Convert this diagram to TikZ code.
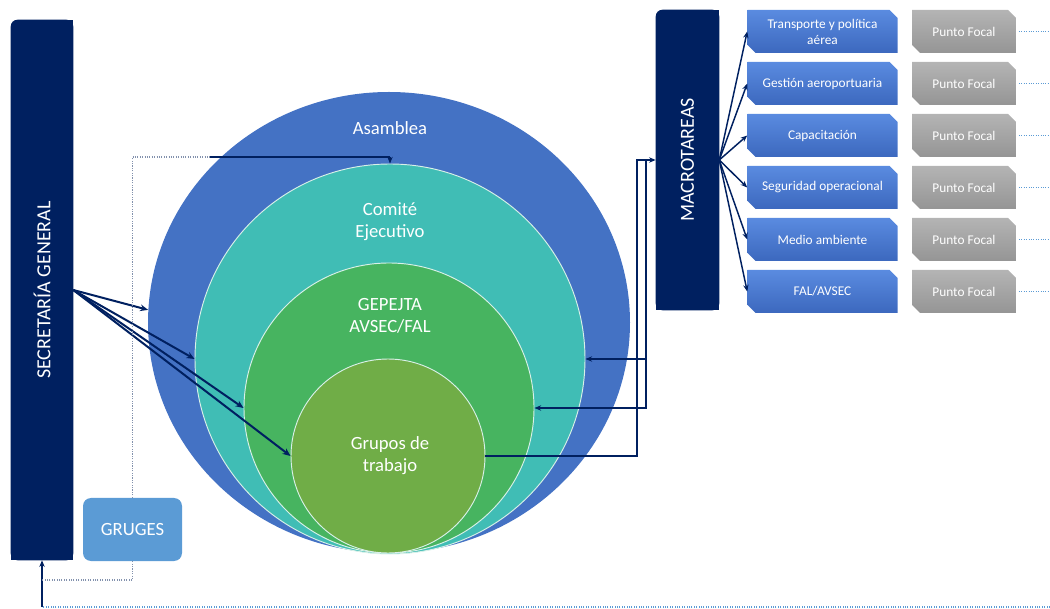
\documentclass[tikz,border=0pt]{standalone}
\usepackage{fontspec}
\setmainfont{Carlito}
\usetikzlibrary{arrows.meta,shapes.geometric,shapes.misc,backgrounds}
\definecolor{navy}{HTML}{002060}
\definecolor{asamc}{HTML}{4472C4}
\definecolor{comc}{HTML}{40BDB5}
\definecolor{gepc}{HTML}{47B460}
\definecolor{gruc}{HTML}{70AD47}
\definecolor{grugc}{HTML}{5B9BD5}
\definecolor{boxtop}{HTML}{5A8BE0}
\definecolor{boxbot}{HTML}{3C68BE}
\definecolor{greytop}{HTML}{B4B4B4}
\definecolor{greybot}{HTML}{959595}
\definecolor{dotgrey}{HTML}{8291AD}
\definecolor{dotblue}{HTML}{5B9BD5}
\definecolor{ringline}{HTML}{D8F0E8}
\begin{document}
\begin{tikzpicture}[x=0.75pt,y=-0.75pt,
  disc/.style={ellipse, inner sep=0pt},
  ctext/.style={text=white, font=\fontsize{14}{16.5}\selectfont, align=center},
  bar/.style={rectangle, inner sep=0pt},
  bartext/.style={text=white, font=\fontsize{15}{18}\selectfont, rotate=90},
  taskbox/.style={chamfered rectangle, chamfered rectangle corners={north east, south west},
    chamfered rectangle xsep=3pt, chamfered rectangle ysep=3pt,
    minimum width=112.5pt, minimum height=32.25pt, inner sep=0pt,
    top color=boxtop, bottom color=boxbot, text=white,
    font=\fontsize{10}{12}\selectfont, align=center},
  focalbox/.style={taskbox, minimum width=78pt, top color=greytop, bottom color=greybot},
  sarr/.style={navy, line width=1.5pt, -{Stealth[length=6pt,width=5pt]}},
  marr/.style={navy, line width=1.1pt, -{Stealth[length=5pt,width=4pt]}},
  carr/.style={navy, line width=1pt, -{Stealth[length=5pt,width=4pt]}},
  cline/.style={navy, line width=1pt},
  gdot/.style={dotgrey, line width=1.1pt, dash pattern=on 0.8pt off 1pt},
  bdot/.style={dotblue, line width=1.1pt, dash pattern=on 0.8pt off 1pt}
]
\useasboundingbox (0,0) rectangle (1050,609);

% nested circles
\node[disc, fill=asamc, minimum width=361.5pt, minimum height=345.75pt] (asam) at (389,322.5) {};
\node[disc, fill=comc, draw=ringline, line width=0.7pt, minimum width=292.5pt, minimum height=292.5pt] (comite) at (390,359) {};
\node[disc, fill=gepc, draw=ringline, line width=0.7pt, minimum width=217.5pt, minimum height=217.5pt] (gep) at (389,408) {};
\node[disc, fill=gruc, draw=ringline, line width=0.7pt, minimum width=145.5pt, minimum height=145.5pt] (grupos) at (388,456) {};

\node[ctext] (asamt) at (390,128) {Asamblea};
\node[ctext] (comt) at (390,222) {Comité\\Ejecutivo};
\node[ctext] (gept) at (390,316) {GEPEJTA\\AVSEC/FAL};
\node[ctext] (grut) at (390,456) {Grupos de\\trabajo};

% bars
\node[bar, minimum width=46.5pt, minimum height=405pt] (sec) at (42,290) {};
\node[bartext] (sect) at (sec.center) {SECRETARÍA GENERAL};
\node[bar, minimum width=47.25pt, minimum height=225pt] (macro) at (687.5,160) {};
\node[bartext] (macrot) at (macro.center) {MACROTAREAS};
\begin{scope}[on background layer]
  \foreach \b in {sec,macro}{
    \fill[navy, rounded corners=5pt] (\b.north west) rectangle (\b.south east);
    \fill[navy] ([yshift=-8pt]\b.north west) rectangle (\b.south east);
    \fill[navy] ([xshift=8pt]\b.north west) rectangle (\b.south east);
  }
\end{scope}

% GRUGES
\node[rectangle, rounded corners=6pt, fill=grugc, minimum width=74.25pt, minimum height=47.25pt,
  text=white, font=\fontsize{14}{16}\selectfont] (gruges) at (132.5,529.5) {GRUGES};

% task boxes
\foreach \i/\y/\t in {1/31.5/{Transporte y política\\aérea},2/83.5/{Gestión aeroportuaria},
  3/135.5/{Capacitación},4/187.5/{Seguridad operacional},5/239.5/{Medio ambiente},6/291.5/{FAL/AVSEC}}{
  \node[taskbox] (t\i) at (822.5,\y) {\t};
  \node[focalbox] (p\i) at (964,\y) {Punto Focal};
  \coordinate (e\i) at (1050,\y);
  \draw[marr] (macro.east) -- (t\i.west);
  \draw[bdot] ([xshift=2pt]p\i.east) -- (e\i);
}

% arrows from Secretaría
\draw[sarr] (sec.east) -- (asam.177);
\draw[sarr] (sec.east) -- (comite.west);
\draw[sarr] (sec.east) -- (gep.west);
\draw[sarr] (sec.east) -- (grupos.west);

% right connectors
\coordinate (r1) at (637,160);
\coordinate (r2) at (646,160);
\draw[carr] (grupos.east) -| (r1) -- (macro.west);
\draw[carr] (r2) |- (comite.east);
\draw[carr] (r2) |- (gep.east);

% GRUGES connectors
\coordinate (g1) at (132.5,157);
\coordinate (g2) at (210,157);
\coordinate (g3) at (390,157);
\draw[gdot] (gruges.north) -- (g1) -- (g2);
\draw[cline] (g2) -- (g3);
\draw[carr] (g3) -- (comite.north);

% bottom return line
\coordinate (b1) at (42,607);
\coordinate (b2) at (1050,607);
\coordinate (b3) at (42,580);
\draw[bdot] (b2) -- (b1);
\draw[carr] (b1) -- (sec.south);
\draw[gdot] (gruges.south) |- (b3);
\end{tikzpicture}
\end{document}
